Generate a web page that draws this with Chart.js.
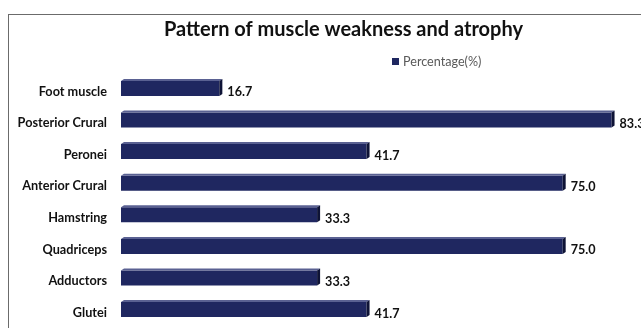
<!DOCTYPE html>
<html>
<head>
<meta charset="utf-8">
<script src="https://cdn.jsdelivr.net/npm/chart.js@4/dist/chart.umd.min.js"></script>
<style>
  html, body { margin: 0; padding: 0; background: #fff; }
  #wrap { width: 641px; height: 328px; }
</style>
</head>
<body>
<div id="wrap"><canvas id="muscleChart" width="641" height="328"></canvas></div>
<script>
// data, top to bottom
const muscles = ['Foot muscle', 'Posterior Crural', 'Peronei', 'Anterior Crural', 'Hamstring', 'Quadriceps', 'Adductors', 'Glutei'];
const percentages = [16.7, 83.3, 41.7, 75.0, 33.3, 75.0, 33.3, 41.7];
const seriesName = 'Percentage(%)';

const barColor = '#1f2760';

// white page + the thin frame around the chart
const framePlugin = {
    id: 'frame',
    beforeDraw(chart) {
        const ctx = chart.ctx;
        ctx.save();
        ctx.fillStyle = '#fff';
        ctx.fillRect(0, 0, chart.width, chart.height);
        ctx.strokeStyle = '#6b6b6b';
        ctx.lineWidth = 1;
        ctx.strokeRect(8.5, 14.5, chart.width + 20, chart.height + 20);
        ctx.restore();
    }
};

// fake 3d look: top face + right side, then value labels
const barExtras = {
    id: 'barExtras',
    afterDatasetsDraw(chart) {
        const ctx = chart.ctx;
        const meta = chart.getDatasetMeta(0);
        ctx.save();
        meta.data.forEach((bar, i) => {
            const top = bar.y - bar.height / 2;
            const bottom = bar.y + bar.height / 2;
            const d = 3;
            // top face
            ctx.fillStyle = '#5a6192';
            ctx.beginPath();
            ctx.moveTo(bar.base, top);
            ctx.lineTo(bar.base + d, top - 2);
            ctx.lineTo(bar.x + d, top - 2);
            ctx.lineTo(bar.x, top);
            ctx.closePath();
            ctx.fill();
            // right side
            ctx.fillStyle = '#0e1336';
            ctx.beginPath();
            ctx.moveTo(bar.x, top);
            ctx.lineTo(bar.x + d, top - 2);
            ctx.lineTo(bar.x + d, bottom - 2);
            ctx.lineTo(bar.x, bottom);
            ctx.closePath();
            ctx.fill();
            // value label
            ctx.fillStyle = '#111';
            ctx.font = 'bold 12.6px Lato';
            ctx.textAlign = 'left';
            ctx.textBaseline = 'middle';
            ctx.fillText(percentages[i].toFixed(1), bar.x + 8, bar.y + 4);
        });
        ctx.restore();
    }
};

// legend sits right of centre, so draw it by hand
const legendPlugin = {
    id: 'sideLegend',
    afterDraw(chart) {
        const ctx = chart.ctx;
        ctx.save();
        ctx.fillStyle = barColor;
        ctx.fillRect(392, 58, 7, 7);
        ctx.fillStyle = '#595959';
        ctx.font = '12.6px Lato';
        ctx.textBaseline = 'middle';
        ctx.fillText(seriesName, 403, 62);
        ctx.restore();
    }
};

const ctx = document.getElementById('muscleChart').getContext('2d');
const muscleChart = new Chart(ctx, {
    type: 'bar',
    data: {
        labels: muscles,
        datasets: [{
            label: seriesName,
            data: percentages,
            backgroundColor: barColor,
            borderWidth: 0,
            barPercentage: 0.95,
            categoryPercentage: 0.5
        }]
    },
    options: {
        indexAxis: 'y',
        responsive: false,
        animation: false,
        layout: {
            // negative right pad only moves the title centre to the right
            padding: { left: 0, right: -46, top: 0, bottom: 2.6 }
        },
        scales: {
            x: {
                display: false,
                min: 0,
                max: 88.3
            },
            y: {
                grid: { display: false, drawTicks: false },
                border: { display: false },
                ticks: {
                    color: '#111',
                    font: { family: 'Lato', weight: 'bold', size: 12.7 },
                    padding: 14,
                    labelOffset: 3
                },
                afterFit(scale) {
                    scale.width = 121;
                    scale.paddingTop = 0;
                    scale.paddingBottom = 0;
                }
            }
        },
        plugins: {
            legend: { display: false },
            tooltip: { enabled: false },
            title: {
                display: true,
                text: 'Pattern of muscle weakness and atrophy',
                color: '#111',
                font: { family: 'Lato', weight: 'bold', size: 20, lineHeight: 1.2 },
                padding: { top: 18, bottom: 30.6 }
            }
        }
    },
    plugins: [framePlugin, barExtras, legendPlugin]
});
</script>
</body>
</html>
